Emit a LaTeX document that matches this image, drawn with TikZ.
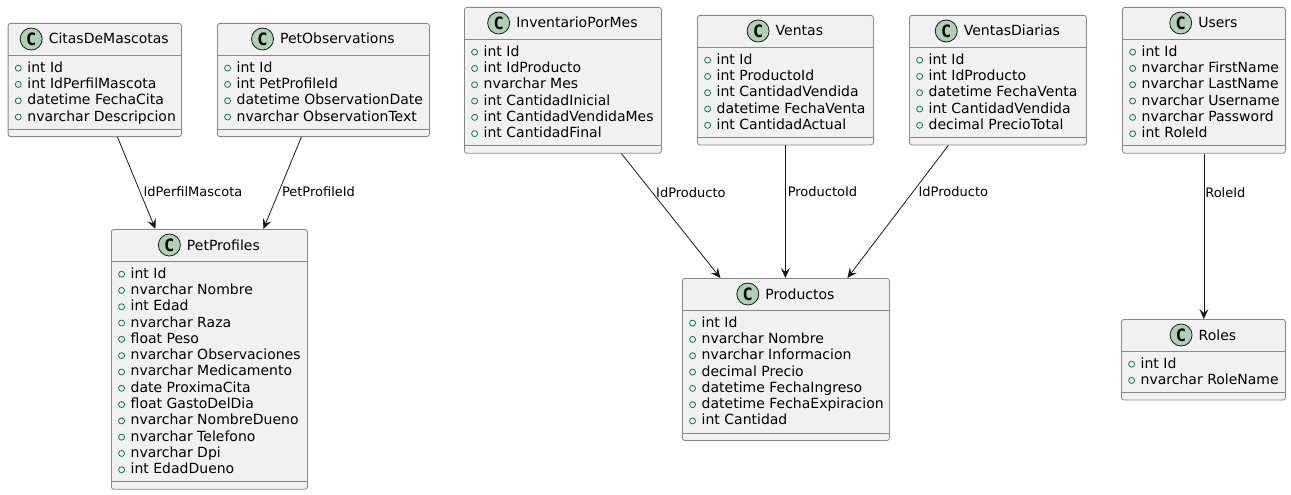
\documentclass[tikz,border=0pt]{standalone}
\usepackage{fontspec}
\setmainfont{DejaVu Sans}
\setmonofont{DejaVu Sans Mono}
\usetikzlibrary{positioning,arrows.meta}

\definecolor{boxgray}{HTML}{F1F1F1}
\definecolor{bordergray}{HTML}{888888}
\definecolor{linegray}{HTML}{181818}
\definecolor{spotgreen}{HTML}{ADD1B2}
\definecolor{pubgreen}{HTML}{038048}

\tikzset{
  classbox/.style={draw=bordergray, line width=0.8pt, fill=boxgray, rounded corners=2.5pt, inner sep=0pt, anchor=north west},
  sepline/.style={draw=bordergray, line width=0.8pt},
  spot/.style={circle, draw=linegray, line width=0.8pt, fill=spotgreen, minimum size=22pt, inner sep=0pt, font=\ttfamily\bfseries\fontsize{17}{17}\selectfont},
  cname/.style={inner sep=0pt, text height=12pt, text depth=2pt, font=\fontsize{14}{14}\selectfont},
  attr/.style={cname, anchor=west},
  pub/.style={circle, draw=pubgreen, line width=0.8pt, minimum size=6pt, inner sep=0pt},
  fk/.style={draw=linegray, line width=0.8pt, -{Stealth[length=10pt,width=9pt,inset=4pt]}},
  fklabel/.style={anchor=west, inner sep=0pt, xshift=3pt, text height=10pt, text depth=2pt, font=\fontsize{13}{13}\selectfont}
}

% #1 node name, #2 left, #3 top, #4 width, #5 class name, #6 attributes
\newcommand{\umlclass}[6]{
  \foreach \a [count=\n] in {#6} {\xdef\nattr{\n}}
  \pgfmathsetmacro\boxh{32+\nattr*16.3+16}
  \node[classbox, minimum width=#4pt, minimum height=\boxh pt] (#1) at (#2,#3) {};
  \draw[sepline] ([yshift=-32pt]#1.north west) -- ([yshift=-32pt]#1.north east);
  \draw[sepline] ([yshift=8pt]#1.south west) -- ([yshift=8pt]#1.south east);
  \node[cname] (#1-name) at ([xshift=14pt,yshift=-16pt]#1.north) {#5};
  \node[spot, left=6pt of #1-name] {C};
  \foreach \a [count=\i] in {#6} {
    \pgfmathsetmacro\rowy{44.15+(\i-1)*16.3}
    \node[pub] at ([xshift=10.6pt,yshift=-\rowy pt-1pt]#1.north west) {};
    \node[attr] at ([xshift=19.5pt,yshift=-\rowy pt]#1.north west) {\a};
  }
}

\begin{document}
\begin{tikzpicture}[x=1pt, y=-1pt]
  \useasboundingbox (0,0) rectangle (1291,495);

  % pets
  \umlclass{citas}{7.7}{23}{173.3}{CitasDeMascotas}{int Id, int IdPerfilMascota, datetime FechaCita, nvarchar Descripcion}
  \umlclass{petobs}{217}{23}{212}{PetObservations}{int Id, int PetProfileId, datetime ObservationDate, nvarchar ObservationText}
  \umlclass{petprofiles}{111}{229}{196}{PetProfiles}{int Id, nvarchar Nombre, int Edad, nvarchar Raza, float Peso, nvarchar Observaciones, nvarchar Medicamento, date ProximaCita, float GastoDelDia, nvarchar NombreDueno, nvarchar Telefono, nvarchar Dpi, int EdadDueno}

  % products
  \umlclass{inventario}{464}{7}{197}{InventarioPorMes}{int Id, int IdProducto, nvarchar Mes, int CantidadInicial, int CantidadVendidaMes, int CantidadFinal}
  \umlclass{ventas}{697}{15}{176}{Ventas}{int Id, int ProductoId, int CantidadVendida, datetime FechaVenta, int CantidadActual}
  \umlclass{ventasdiarias}{909}{15}{177}{VentasDiarias}{int Id, int IdProducto, datetime FechaVenta, int CantidadVendida, decimal PrecioTotal}
  \umlclass{productos}{682}{278}{207}{Productos}{int Id, nvarchar Nombre, nvarchar Informacion, decimal Precio, datetime FechaIngreso, datetime FechaExpiracion, int Cantidad}

  % users
  \umlclass{users}{1122}{7}{163}{Users}{int Id, nvarchar FirstName, nvarchar LastName, nvarchar Username, nvarchar Password, int RoleId}
  \umlclass{roles}{1121}{319}{164}{Roles}{int Id, nvarchar RoleName}

  \draw[fk] ([xshift=22.7pt]citas.south) -- node[fklabel, pos=0.6] {IdPerfilMascota} ([xshift=-54pt]petprofiles.north);
  \draw[fk] ([xshift=-22pt]petobs.south) -- node[fklabel, pos=0.6] {PetProfileId} ([xshift=54pt]petprofiles.north);
  \draw[fk] ([xshift=58.5pt]inventario.south) -- node[fklabel, pos=0.317] {IdProducto} ([xshift=-65.5pt]productos.north);
  \draw[fk] (ventas.south) -- node[fklabel, pos=0.358, xshift=-1pt] {ProductoId} (ventas.south |- productos.north);
  \draw[fk] ([xshift=-49.5pt]ventasdiarias.south) -- node[fklabel, pos=0.358, xshift=3pt] {IdProducto} ([xshift=61.5pt]productos.north);
  \draw[fk] (users.south) -- node[fklabel, pos=0.24, xshift=-2pt] {RoleId} (users.south |- roles.north);

\end{tikzpicture}
\end{document}
